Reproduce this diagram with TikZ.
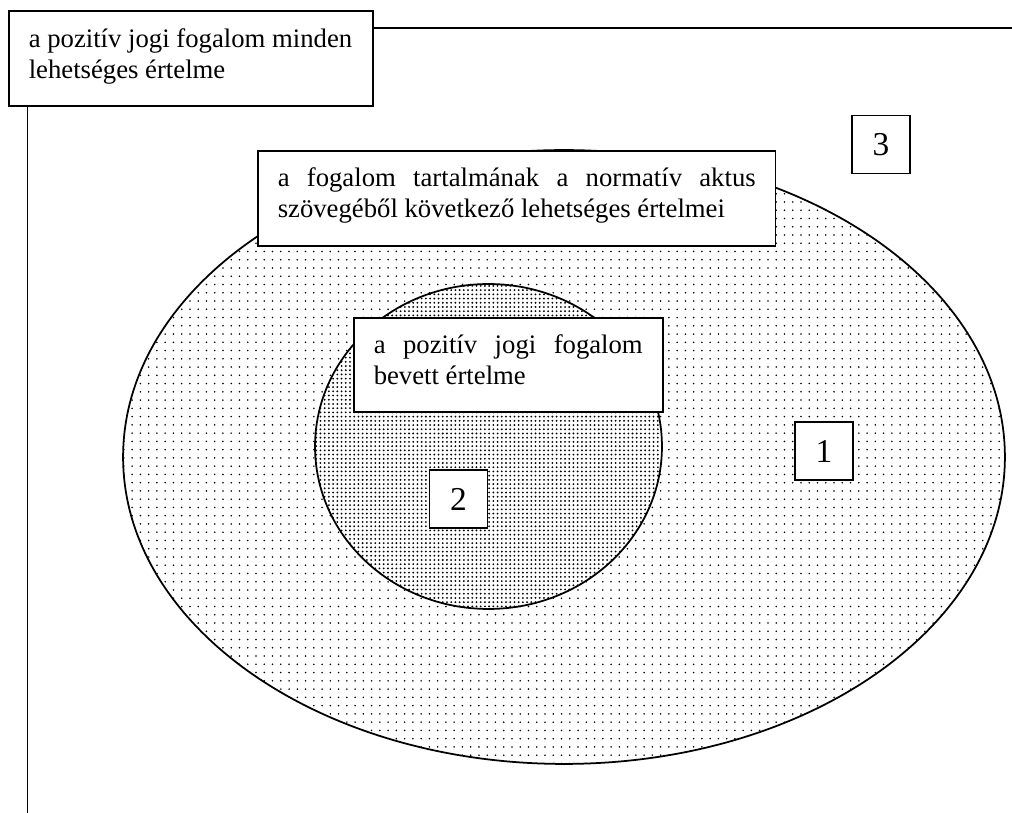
\documentclass[tikz,border=0pt]{standalone}
\usepackage{fontspec}
\setmainfont{Liberation Serif}
\usetikzlibrary{patterns.meta}
\tikzset{
  frame/.style={draw, line width=0.9pt, fill=white, inner ysep=0pt, inner xsep=0.4cm, anchor=north west, font=\fontsize{15.2pt}{17.57pt}\selectfont},
  numbox/.style={draw, line width=0.9pt, fill=white, minimum width=1.16cm, minimum height=1.16cm, inner sep=0pt, font=\fontsize{19pt}{22pt}\selectfont},
  rule/.style={line width=1pt},
  outerdots/.style={pattern={Dots[distance=4.7pt, radius=0.5pt]}, pattern color=black},
  innerdots/.style={pattern={Dots[distance=2.4pt, radius=0.58pt]}, pattern color=black}
}
\begin{document}
\begin{tikzpicture}[x=0.02cm,y=-0.02cm]
\useasboundingbox (0,0) rectangle (1012,813);
% frame lines
\coordinate (ht) at (372,28);
\coordinate (hr) at (1012,28);
\coordinate (vt) at (27.5,105);
\coordinate (vb) at (27.5,813);
\draw[rule] (ht) -- (hr);
\draw[rule] (vt) -- (vb);
% outer ellipse
\draw[rule, fill=white] (564,457) ellipse [x radius=8.82cm, y radius=6.14cm];
\fill[outerdots] (564,457) ellipse [x radius=8.82cm, y radius=6.14cm];
% inner circle
\draw[rule, fill=white] (488.5,446.5) ellipse [x radius=3.47cm, y radius=3.25cm];
\fill[innerdots] (488.5,446.5) ellipse [x radius=3.47cm, y radius=3.25cm];
% text boxes
\node[frame] (all) at (8,10) {\parbox[c][1.9cm][t]{6.48cm}{\raggedright\rule{0pt}{0.74cm}a pozitív jogi fogalom minden\\lehetséges értelme}};
\node[frame] (text) at (257,150) {\parbox[c][1.9cm][t]{9.56cm}{\rule{0pt}{0.72cm}a fogalom tartalmának a normatív aktus\linebreak szövegéből következő lehetséges értelmei}};
\node[frame] (usual) at (353,317) {\parbox[c][1.88cm][t]{5.38cm}{\rule{0pt}{0.72cm}a pozitív jogi fogalom\linebreak bevett értelme}};
% number boxes
\node[numbox] (n3) at (881,144.5) {3};
\node[numbox] (n1) at (824,451) {1};
\node[numbox] (n2) at (458.5,499) {2};
\end{tikzpicture}
\end{document}
